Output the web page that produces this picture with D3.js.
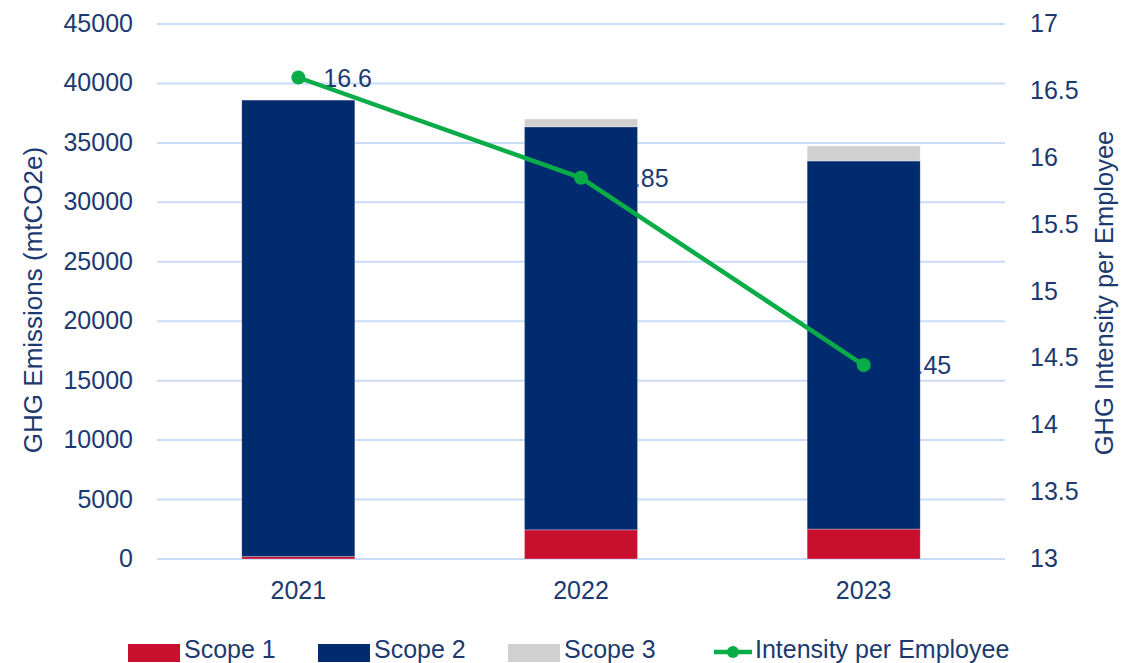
<!DOCTYPE html>
<html>
<head>
<meta charset="utf-8">
<script src="https://cdn.jsdelivr.net/npm/d3@7"></script>
<style>
  body { margin: 0; background: #fff; }
  text { font-family: "Liberation Sans", Arial, sans-serif; fill: #1c3a70; }
</style>
</head>
<body>
<svg id="chart" width="1142" height="663"></svg>
<script>
// data
var years = ["2021", "2022", "2023"];
var scope1 = [200, 2450, 2520];
var scope2 = [38400, 33900, 30960];
var scope3 = [0, 660, 1260];
var intensity = [16.6, 15.85, 14.45];
var leftTicks = [0, 5000, 10000, 15000, 20000, 25000, 30000, 35000, 40000, 45000];
var rightTicks = [13, 13.5, 14, 14.5, 15, 15.5, 16, 16.5, 17];

var colors = { s1: "#c8102e", s2: "#002b6f", s3: "#d0d0d0", line: "#0aac48" };

var svg = d3.select("#chart");
var m = { left: 157, right: 1005, top: 24, bottom: 559 };

var x = d3.scaleBand().domain(years).range([m.left, m.right]).paddingInner(0.6).paddingOuter(0.3);
var yL = d3.scaleLinear().domain([0, 45000]).range([m.bottom, m.top]);
var yR = d3.scaleLinear().domain([13, 17]).range([m.bottom, m.top]);
var cx = (d, i) => x(years[i]) + x.bandwidth() / 2;

// gridlines
svg.append("g").selectAll("line").data(leftTicks).join("line")
    .attr("x1", m.left).attr("x2", m.right)
    .attr("y1", d => yL(d)).attr("y2", d => yL(d))
    .attr("stroke", "#c9dcf7").attr("stroke-width", 2);

// left axis labels
svg.append("g").selectAll("text").data(leftTicks).join("text")
    .attr("x", 133).attr("y", d => yL(d) + 8)
    .attr("text-anchor", "end").attr("font-size", 25)
    .text(d => d);

// right axis labels
svg.append("g").selectAll("text").data(rightTicks).join("text")
    .attr("x", 1030).attr("y", d => yR(d) + 8)
    .attr("text-anchor", "start").attr("font-size", 25)
    .text(d => d);

// x labels
svg.append("g").selectAll("text").data(years).join("text")
    .attr("x", d => x(d) + x.bandwidth() / 2).attr("y", 599)
    .attr("text-anchor", "middle").attr("font-size", 25)
    .text(d => d);

// axis titles
svg.append("text")
    .attr("transform", "translate(42,300) rotate(-90)")
    .attr("text-anchor", "middle").attr("font-size", 26)
    .text("GHG Emissions (mtCO2e)");
svg.append("text")
    .attr("transform", "translate(1113,293) rotate(-90)")
    .attr("text-anchor", "middle").attr("font-size", 25.5)
    .text("GHG Intensity per Employee");

// intensity labels (under the bars, so the navy text vanishes where it overlaps)
svg.append("g").selectAll("text").data(intensity).join("text")
    .attr("x", (d, i) => cx(d, i) + 25)
    .attr("y", d => yR(d) + 9)
    .attr("font-size", 25)
    .text(d => d);

// stacked bars
var rows = years.map((y, i) => ({ year: y, s1: scope1[i], s2: scope2[i], s3: scope3[i] }));
var stack = d3.stack().keys(["s1", "s2", "s3"])(rows);
svg.append("g").selectAll("g").data(stack).join("g")
    .attr("fill", d => colors[d.key])
    .selectAll("rect").data(d => d).join("rect")
    .attr("x", d => x(d.data.year))
    .attr("width", x.bandwidth())
    .attr("y", d => yL(d[1]))
    .attr("height", d => yL(d[0]) - yL(d[1]))
    .attr("stroke", "#ffffff").attr("stroke-width", 0.6).attr("stroke-opacity", 0.5);

// line
var line = d3.line().x(cx).y(d => yR(d));
svg.append("path").datum(intensity)
    .attr("d", line).attr("fill", "none")
    .attr("stroke", colors.line).attr("stroke-width", 4.5);
svg.append("g").selectAll("circle").data(intensity).join("circle")
    .attr("cx", cx)
    .attr("cy", d => yR(d)).attr("r", 7)
    .attr("fill", colors.line);

// legend
var legend = svg.append("g");
var items = [
  { label: "Scope 1", c: colors.s1, x: 128 },
  { label: "Scope 2", c: colors.s2, x: 318 },
  { label: "Scope 3", c: colors.s3, x: 508 }
];
items.forEach(it => {
  legend.append("rect").attr("x", it.x).attr("y", 644).attr("width", 52).attr("height", 18).attr("fill", it.c);
  legend.append("text").attr("x", it.x + 56).attr("y", 658).attr("font-size", 25).text(it.label);
});
legend.append("line").attr("x1", 714).attr("x2", 752).attr("y1", 652).attr("y2", 652)
    .attr("stroke", colors.line).attr("stroke-width", 4.5);
legend.append("circle").attr("cx", 733).attr("cy", 652).attr("r", 6).attr("fill", colors.line);
legend.append("text").attr("x", 755).attr("y", 658).attr("font-size", 25).text("Intensity per Employee");
</script>
</body>
</html>
